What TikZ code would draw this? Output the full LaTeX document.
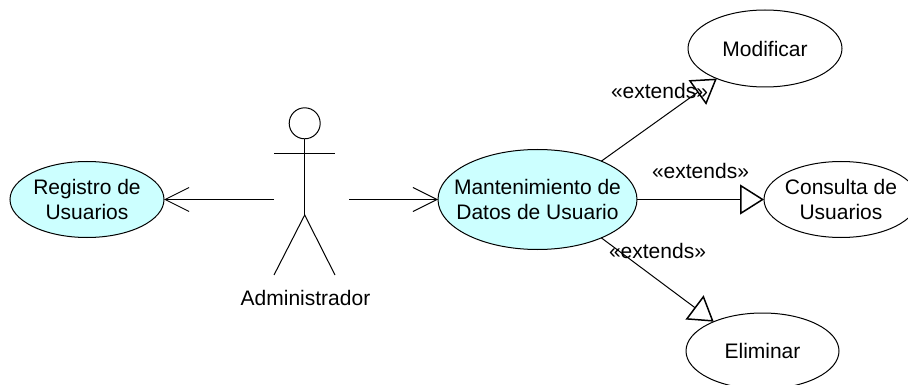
\documentclass[tikz,border=0pt]{standalone}
\usepackage{fontspec}
\setmainfont{Liberation Sans}
\usetikzlibrary{arrows.meta,shapes.geometric}
\definecolor{uc}{RGB}{204,255,255}
\tikzset{
  x=1pt,y=-1pt,
  usecase/.style={ellipse,draw=black,line width=1pt,fill=#1,inner sep=-30pt,outer sep=0pt,align=center,font=\fontsize{21}{25}\selectfont},
  usecase/.default=white,
  lbl/.style={inner sep=0pt,font=\fontsize{21}{25}\selectfont},
  assoc/.style={line width=1pt,-{Straight Barb[length=24pt,width=24pt,line width=1pt]}},
  ext/.style={line width=1pt,-{Triangle[open,length=24pt,width=30pt,line width=1.5pt,fill=none]}},
  limb/.style={line width=1pt}
}
\begin{document}
\begin{tikzpicture}
\useasboundingbox (0,0) rectangle (908,385);
\node[usecase=uc,minimum width=154pt,minimum height=76pt] (reg) at (87,199.5) {Registro de\\Usuarios};
\node[usecase=uc,minimum width=199pt,minimum height=100pt] (man) at (537.5,199.5) {Mantenimiento de\\Datos de Usuario};
\node[usecase,minimum width=154pt,minimum height=77pt] (mod) at (765,48.5) {Modificar};
\node[usecase,minimum width=154pt,minimum height=76pt] (con) at (841,199.5) {Consulta de\\Usuarios};
\node[usecase,minimum width=153pt,minimum height=76pt] (eli) at (762.5,351) {Eliminar};
% actor
\node[circle,draw=black,line width=1pt,minimum size=31pt,inner sep=0pt,outer sep=0pt] (head) at (304.7,123.3) {};
\coordinate (hip) at (304.7,215);
\coordinate (armL) at (274,153.5);
\coordinate (armR) at (335,153.5);
\coordinate (footL) at (274,275);
\coordinate (footR) at (335,275);
\coordinate (actL) at (274,199.5);
\coordinate (actR) at (349,199.5);
\draw[limb] (head.south) -- (hip);
\draw[limb] (armL) -- (armR);
\draw[limb] (footL) -- (hip) -- (footR);
\node[lbl] (adm) at (305.5,298) {Administrador};
% connectors
\draw[assoc] (actL) -- (reg.east);
\draw[assoc] (actR) -- (man.west);
\draw[ext] (man.31) -- (mod.212);
\draw[ext] (man.east) -- (con.west);
\draw[ext] (man.-31) -- (eli.149);
\node[lbl] (e1) at (659.5,91) {«extends»};
\node[lbl] (e2) at (700.5,171) {«extends»};
\node[lbl] (e3) at (657.5,251) {«extends»};
\end{tikzpicture}
\end{document}
